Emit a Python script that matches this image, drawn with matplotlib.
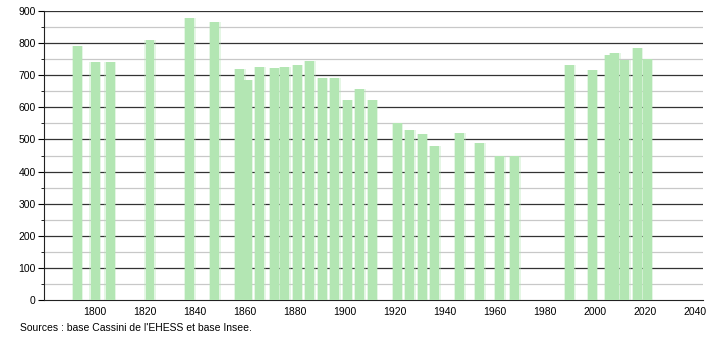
import numpy as np
import matplotlib.pyplot as plt

# census years and population
years = [1793, 1800, 1806, 1822, 1838, 1848, 1858, 1861, 1866, 1872, 1876,
         1881, 1886, 1891, 1896, 1901, 1906, 1911, 1921, 1926, 1931, 1936,
         1946, 1954, 1962, 1968, 1990, 1999, 2006, 2008, 2012, 2017, 2021]
pop = [790, 740, 740, 809, 877, 865, 720, 684, 725, 722, 725,
       731, 743, 691, 691, 624, 656, 623, 550, 529, 516, 480,
       520, 490, 450, 450, 731, 715, 762, 770, 749, 785, 752]
xticks = list(range(1800, 2041, 20))
yticks = list(range(0, 901, 100))
source = "Sources : base Cassini de l'EHESS et base Insee."

plt.rcParams['font.family'] = ['Liberation Sans', 'DejaVu Sans']

fig = plt.figure(figsize=(7.1, 3.4), dpi=100)
ax = fig.add_axes([0.062, 0.1176, 0.928, 0.85])

# soft halo then the bar itself
ax.bar(years, pop, width=4.6, color='#b3e6b3', alpha=0.35, zorder=2)
ax.bar(years, pop, width=3.6, color='#b3e6b3', zorder=3)

# grid: dark every 100, light every 50
for v in range(50, 900, 100):
    ax.axhline(v, color='#c8c8c8', lw=0.9, zorder=1)
for v in yticks[1:]:
    ax.axhline(v, color='#333333', lw=0.9, zorder=1)

ax.set_xlim(1779.6, 2043.2)
ax.set_ylim(0, 900)
ax.set_xticks(xticks)
ax.set_yticks(yticks)
ax.set_yticks(range(50, 900, 100), minor=True)
ax.tick_params(axis='x', length=0, labelsize=7.5, pad=5)
ax.tick_params(axis='y', which='major', length=4, labelsize=7.5, pad=2)
ax.tick_params(axis='y', which='minor', length=2)
for s in ['top', 'right']:
    ax.spines[s].set_visible(False)
ax.spines['left'].set_color('#222222')
ax.spines['bottom'].set_color('#222222')

fig.text(0.028, 0.026, source, fontsize=7.5)

plt.savefig('out.png', dpi=100)
